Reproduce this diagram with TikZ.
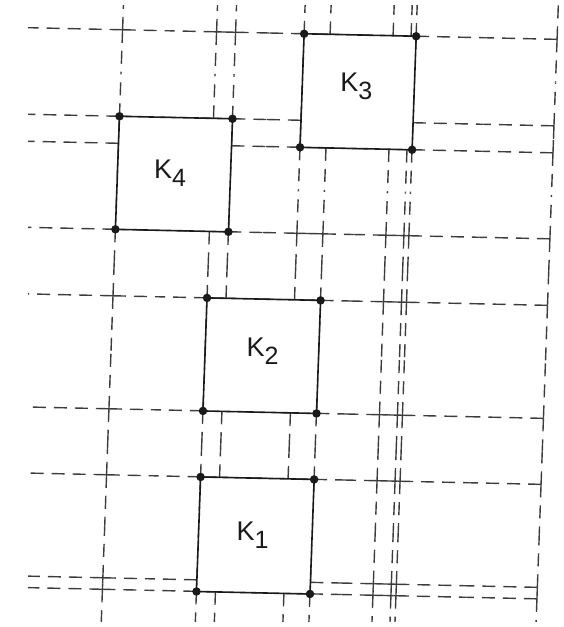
\documentclass[tikz,border=0pt]{standalone}
\usepackage{fontspec}
\setmainfont{Liberation Sans}
\usetikzlibrary{calc}
\definecolor{Ink}{HTML}{1A1A1A}
\definecolor{Dash}{HTML}{3C3C3C}
\tikzset{
  gridline/.style={draw=Dash,line width=1.4pt,dash pattern=on 13pt off 8pt},
  cellbox/.style={draw=Ink,line width=1.6pt,fill=white},
  corner/.style={circle,fill=Ink,inner sep=0pt,minimum size=8.5pt},
  cellname/.style={font=\fontsize{27}{32}\selectfont,text=Ink,inner sep=0pt}
}
\newcommand{\kname}[1]{K\raisebox{-0.3em}{\fontsize{25}{30}\selectfont#1}}

\begin{document}
\begin{tikzpicture}[x=1pt,y=-1pt]
  \useasboundingbox (0,0) rectangle (564,627);
  \clip (28,5) rectangle (564,621);
  \begin{scope}[shift={(282,313.5)},cm={1,-0.022,0.036,1,(0,0)},shift={(-282,-313.5)}]
    % horizontal grid lines, each piece dashed from both crossings
    \foreach \y in {33.5,120,147,233,299.5,412.5,478.5,581.5,593} {
      \draw[gridline] (112.5,\y) -- (-40,\y);
      \foreach \p/\q in {112.5/206.5,206.5/225.5,225.5/294,294/320,320/383,383/401,401/406,406/547} {
        \draw[gridline] (\p,\y) -- ({(\p+\q)/2},\y);
        \draw[gridline] (\q,\y) -- ({(\p+\q)/2},\y);
      }
    }
    % vertical grid lines
    \foreach \x in {112.5,206.5,225.5,294,320,383,401,406,547} {
      \draw[gridline] (\x,33.5) -- (\x,-40);
      \draw[gridline] (\x,593) -- (\x,660);
      \foreach \p/\q in {33.5/120,120/147,147/233,233/299.5,299.5/412.5,412.5/478.5,478.5/581.5,581.5/593} {
        \draw[gridline] (\x,\p) -- (\x,{(\p+\q)/2});
        \draw[gridline] (\x,\q) -- (\x,{(\p+\q)/2});
      }
    }
    % the four cells
    \foreach \k/\xl/\yt/\xr/\yb in {1/206.5/478.5/320/593,2/206.5/299.5/320/412.5,3/294/33.5/406/147,4/112.5/120/225.5/233} {
      \coordinate (K\k-nw) at (\xl,\yt);
      \coordinate (K\k-ne) at (\xr,\yt);
      \coordinate (K\k-se) at (\xr,\yb);
      \coordinate (K\k-sw) at (\xl,\yb);
      \draw[cellbox] (K\k-nw) -- (K\k-ne) -- (K\k-se) -- (K\k-sw) -- cycle;
      \foreach \c in {nw,ne,se,sw}
        \node[corner] (dot\k\c) at (K\k-\c) {};
    }
    \node[cellname] (k1) at (260.5,536) {\kname{1}};
    \node[cellname] (k2) at (264,352) {\kname{2}};
    \node[cellname] (k3) at (348,84.5) {\kname{3}};
    \node[cellname] (k4) at (165,175.5) {\kname{4}};
  \end{scope}
\end{tikzpicture}
\end{document}
